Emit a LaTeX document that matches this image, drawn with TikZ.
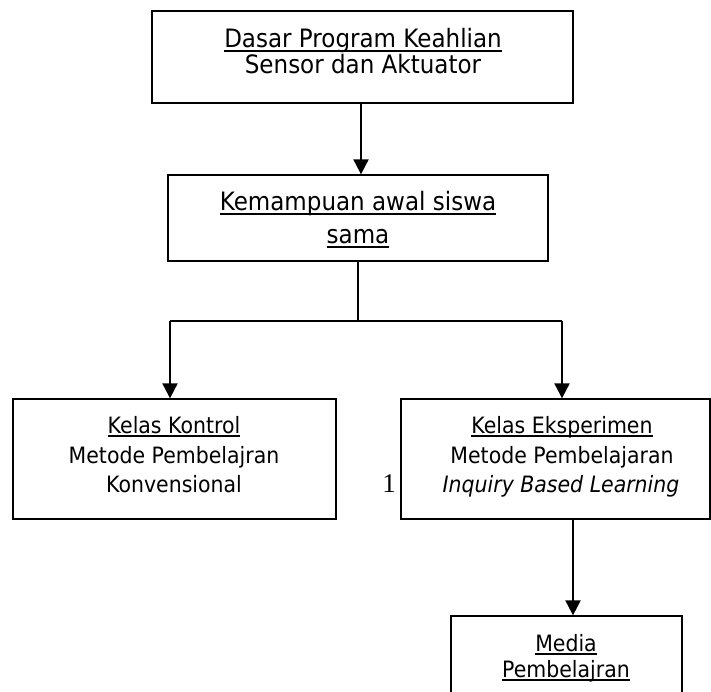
\documentclass[tikz,border=0pt]{standalone}
\usepackage{fontspec}
\setmainfont{DejaVu Sans}[FakeStretch=0.91]
\newfontfamily\serifone{Liberation Serif}
\usetikzlibrary{arrows.meta}
\newcommand\myul[1]{\leavevmode\setbox0=\hbox{#1}\rlap{\rule[-3.8pt]{\wd0}{1.4pt}}\box0}
\begin{document}
\begin{tikzpicture}[x=1pt,y=-1pt,
  box/.style={draw, line width=1.3pt, inner sep=0pt},
  txt/.style={anchor=base, inner sep=0pt},
  big/.style={font=\fontsize{25.3}{29}\selectfont},
  mid/.style={font=\fontsize{22.5}{26}\selectfont},
  thinline/.style={line width=1.3pt},
  arr/.style={line width=2pt, -{Triangle[width=15pt,length=15pt]}}]
\useasboundingbox (0,0) rectangle (711,692);
% boxes
\node[box, minimum width=421pt, minimum height=92pt] (b1) at (362.5,57) {};
\node[box, minimum width=380pt, minimum height=86pt] (b2) at (358,218) {};
\node[box, minimum width=323pt, minimum height=120pt] (b3) at (174.5,459) {};
\node[box, minimum width=309pt, minimum height=120pt] (b4) at (555.5,459) {};
\node[box, minimum width=231pt, minimum height=124pt] (b5) at (566.5,678) {};
% texts
\node[txt, big] (t11) at (363,48) {\myul{Dasar Program Keahlian}};
\node[txt, big] (t12) at (363,74) {Sensor dan Aktuator};
\node[txt, big] (t21) at (358,211) {\myul{Kemampuan awal siswa}};
\node[txt, big] (t22) at (358,244) {\myul{sama}};
\node[txt, mid] (t31) at (174,433) {\myul{Kelas Kontrol}};
\node[txt, mid] (t32) at (174,463) {Metode Pembelajran};
\node[txt, mid] (t33) at (174,492) {Konvensional};
\node[txt, mid] (t41) at (562,433) {\myul{Kelas Eksperimen}};
\node[txt, mid] (t42) at (562,463) {Metode Pembelajaran};
\node[txt, mid] (t43) at (561,492) {\itshape Inquiry Based Learning};
\node[txt, mid] (t51) at (566,651) {\myul{Media}};
\node[txt, mid] (t52) at (566,677) {\myul{Pembelajran}};
\node[inner sep=0pt, anchor=base east, font=\serifone\fontsize{27}{30}\selectfont] (n1) at (396,492) {1};
% connectors
\draw[arr] ([xshift=-1.5pt]b1.south) -- ([xshift=-1.5pt]b1.south |- b2.north);
\coordinate (j) at (358,321);
\coordinate (jl) at (170,321);
\coordinate (jr) at (562,321);
\draw[thinline] (b2.south) -- (j);
\draw[thinline] (jl) -- (jr);
\draw[arr] (jl) -- (jl |- b3.north);
\draw[arr] (jr) -- (jr |- b4.north);
\draw[arr] ([xshift=17.5pt]b4.south) -- ([xshift=17.5pt]b4.south |- b5.north);
\end{tikzpicture}
\end{document}
